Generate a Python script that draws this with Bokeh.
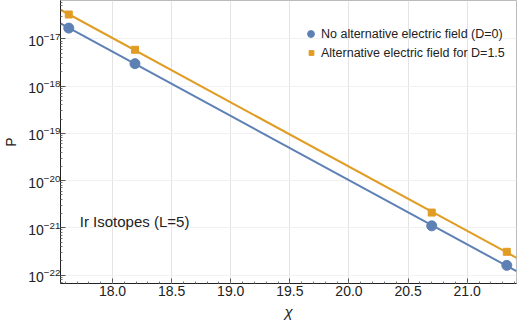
import numpy as np
from bokeh.plotting import figure
from bokeh.models import (Range1d, FixedTicker, LogTickFormatter, Legend, LegendItem,
                          Label, PrintfTickFormatter)
from bokeh.embed import file_html
from bokeh.resources import INLINE

# ---- data ----
chi = [17.63, 18.19, 20.70, 21.335]
p_no_field = [1.7e-17, 3.0e-18, 1.1e-21, 1.6e-22]
p_field_d15 = [3.3e-17, 5.9e-18, 2.1e-21, 3.1e-22]
x_tick_values = [18.0, 18.5, 19.0, 19.5, 20.0, 20.5, 21.0]
y_tick_exponents = [-22, -21, -20, -19, -18, -17]
series_names = ["No alternative electric field (D=0)", "Alternative electric field for D=1.5"]
annotation_text = "Ir Isotopes (L=5)"
x_label = "χ"
y_label = "P"

BLUE = "#5E81B5"
ORANGE = "#E19C24"
FONT = "Liberation Sans"
TXT = "#222222"

x0, x1 = 17.56, 21.417
y0, y1 = 10 ** -22.18, 10 ** -16.185

p = figure(width=518, height=323, y_axis_type="log", output_backend="svg",
           toolbar_location=None, x_range=Range1d(x0, x1), y_range=Range1d(y0, y1),
           min_border_left=58, min_border_right=2, min_border_top=0, min_border_bottom=40)
p.background_fill_color = "white"
p.border_fill_color = "white"
p.outline_line_color = "#bbbbbb"
p.outline_line_width = 1

# fitted lines (least squares in log space) across the whole range
xs_line = np.array([x0, x1])
for vals, col in [(p_no_field, BLUE), (p_field_d15, ORANGE)]:
    k, b = np.polyfit(np.array(chi), np.log10(np.array(vals)), 1)
    p.line(xs_line, 10 ** (k * xs_line + b), line_color=col, line_width=2)

r1 = p.scatter(chi, p_no_field, marker="circle", size=10, fill_color=BLUE, line_color=BLUE)
r2 = p.scatter(chi, p_field_d15, marker="square", size=7, fill_color=ORANGE, line_color=ORANGE)

# axes
xa = p.xaxis[0]
xa.ticker = FixedTicker(ticks=x_tick_values,
                        minor_ticks=[round(17.6 + 0.1 * i, 1) for i in range(39)])
xa.formatter = PrintfTickFormatter(format="%.1f")
ya = p.yaxis[0]
ya.ticker = FixedTicker(ticks=[10.0 ** e for e in y_tick_exponents],
                        minor_ticks=[m * 10.0 ** e for e in range(-23, -16) for m in range(2, 10)])
ya.formatter = LogTickFormatter()

for ax in (xa, ya):
    ax.axis_line_color = "#222222"
    ax.axis_line_width = 1
    ax.major_tick_in = 5
    ax.major_tick_out = 0
    ax.minor_tick_in = 2
    ax.minor_tick_out = 0
    ax.major_tick_line_color = "#555555"
    ax.minor_tick_line_color = "#777777"
    ax.major_label_text_font = FONT
    ax.major_label_text_color = TXT
    ax.axis_label_text_font = FONT
    ax.axis_label_text_color = TXT

xa.major_label_text_font_size = "14px"
ya.major_label_text_font_size = "14px"
xa.axis_label = x_label
xa.axis_label_text_font_size = "15px"
xa.axis_label_text_font_style = "italic"
xa.major_label_standoff = 2
xa.axis_label_standoff = 4
ya.axis_label = y_label
ya.axis_label_text_font_size = "14px"
ya.axis_label_text_font_style = "normal"
ya.major_label_standoff = 0
ya.axis_label_standoff = 6

p.xgrid.grid_line_color = "#e4e4e4"
p.xgrid.grid_line_width = 1
p.ygrid.grid_line_color = "#f1f1f1"
p.ygrid.grid_line_width = 1

common = dict(padding=0, margin=0, spacing=0, glyph_height=17, label_height=17,
              label_text_font=FONT, label_text_font_size="12.5px", label_text_color=TXT,
              border_line_alpha=0, background_fill_alpha=0)
leg1 = Legend(items=[LegendItem(label=series_names[0], renderers=[r1])],
              location=(242, 241), glyph_width=17, label_standoff=2, **common)
leg2 = Legend(items=[LegendItem(label=series_names[1], renderers=[r2])],
              location=(245, 222), glyph_width=12, label_standoff=4, **common)
p.add_layout(leg1)
p.add_layout(leg2)

p.add_layout(Label(x=17.723, y=10 ** -20.87, text=annotation_text, text_font=FONT,
                   text_font_size="15px", text_color=TXT, text_baseline="middle"))

open("out.html", "w").write(file_html(p, INLINE))
